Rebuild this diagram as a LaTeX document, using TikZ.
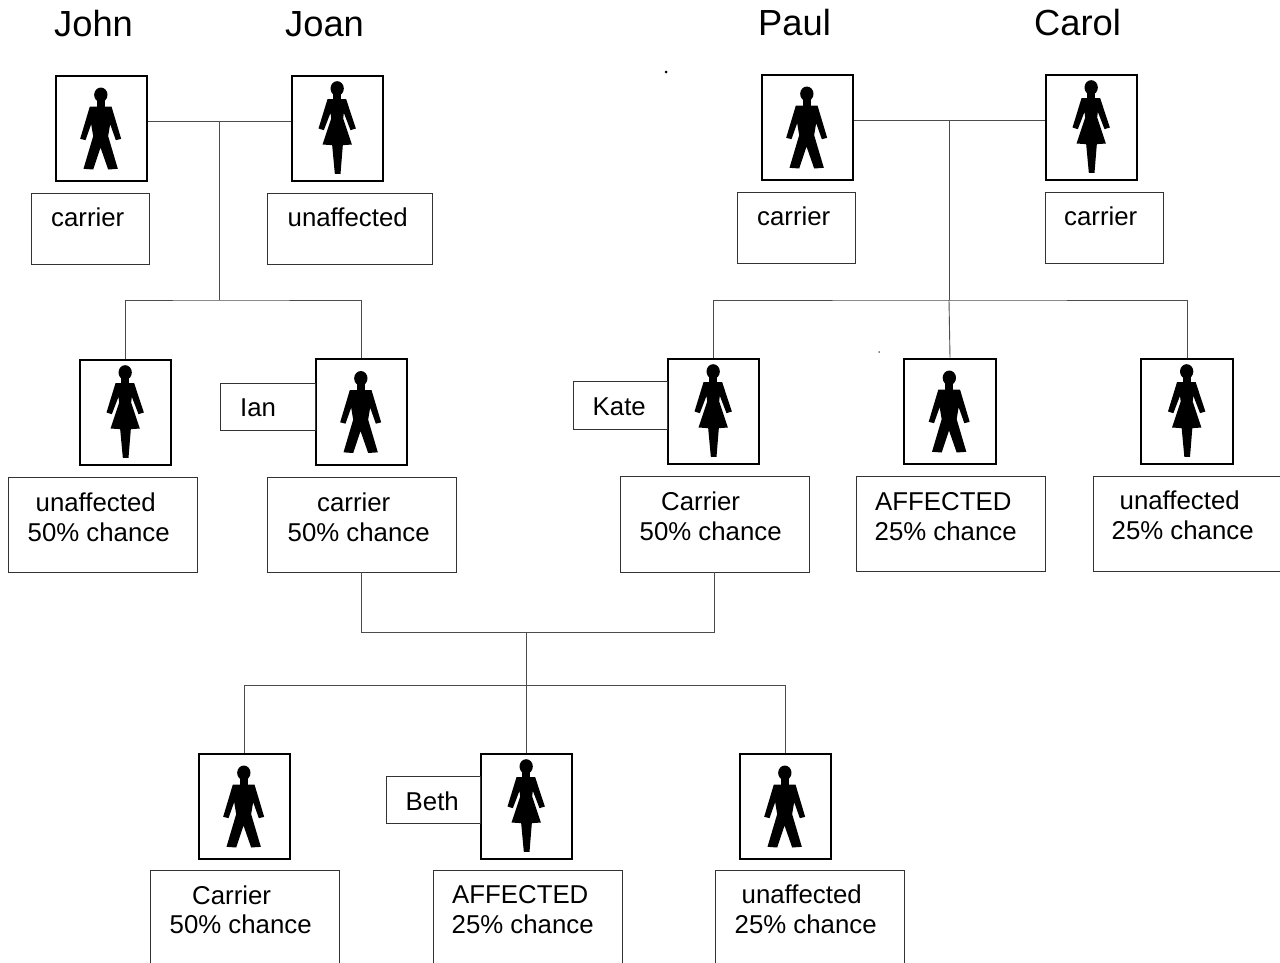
\documentclass[tikz,border=0pt]{standalone}
\usepackage{fontspec}
\setmainfont{Liberation Sans}
\begin{document}
\begin{tikzpicture}[x=1pt,y=-1pt,
  person/.style={draw=black,line width=2.3pt,fill=white,minimum width=91.5pt,minimum height=105.5pt,inner sep=0pt},
  labbox/.style={draw=black!80,line width=0.9pt,inner sep=0pt},
  link/.style={draw=black!70,line width=0.9pt},
  drop/.style={link,xshift=-0.8pt},
  speck/.style={fill=black,circle,inner sep=0pt},
  txt/.style={anchor=base west,inner sep=0pt,font=\fontsize{25.8}{30}\selectfont},
  namet/.style={anchor=base west,inner sep=0pt,font=\fontsize{36.3}{42}\selectfont},
  male/.pic={
    \begin{scope}[x=.3333pt,y=-.3333pt,shift={(-185,-205)}]
      \fill[black] (183,104) ellipse [x radius=20,y radius=22];
      \fill[black] (150,139)--(215,139)--(244,236)--(228,240)--(211,192)--(205,228)--(234,326)--(205,328)--(182,262)--(160,328)--(131,326)--(160,228)--(154,192)--(137,240)--(121,236)--cycle;
      \fill[black] (170,120) rectangle (195,145);
    \end{scope}},
  female/.pic={
    \begin{scope}[x=.3333pt,y=-.3333pt,shift={(-171,-205)}]
      \fill[black] (170,85) ellipse [x radius=20,y radius=22];
      \fill[black] (141,117)--(197,117)--(226,205)--(210,210)--(190,158)--(188,175)--(214,253)--(187,255)--(180,341)--(163,341)--(155,255)--(126,253)--(152,175)--(150,158)--(130,210)--(114,205)--cycle;
      \fill[black] (158,100) rectangle (182,122);
    \end{scope}}
]
\useasboundingbox (0,0) rectangle (1280,962);

% free-end junctions
\coordinate (jA) at (219,121);
\coordinate (jAb) at (219,300);
\coordinate (jB) at (949,120);
\coordinate (jBb) at (949,300);
\coordinate (jC) at (526,632);
\coordinate (jCb) at (526,685);

% person boxes
\node[person] (john) at (101.5,128.5) {};
\node[person] (joan) at (337.5,128.5) {};
\node[person] (paul) at (807.5,127.5) {};
\node[person] (carol) at (1091.5,127.5) {};
\node[person] (dau1) at (125.5,412.5) {};
\node[person] (ian) at (361.5,412) {};
\node[person] (kate) at (713.5,411.5) {};
\node[person] (son2) at (950,411.5) {};
\node[person] (dau3) at (1187,411.5) {};
\node[person] (son3) at (244.5,806.5) {};
\node[person] (beth) at (526.5,806.5) {};
\node[person] (son4) at (785.5,806.5) {};

% label boxes
\node[labbox,minimum width=118pt,minimum height=71pt] (lJohn) at (90,228.5) {};
\node[labbox,minimum width=165pt,minimum height=71pt] (lJoan) at (349.5,228.5) {};
\node[labbox,minimum width=118pt,minimum height=71pt] (lPaul) at (796,227.5) {};
\node[labbox,minimum width=118pt,minimum height=71pt] (lCarol) at (1104,227.5) {};
\node[labbox,minimum width=189pt,minimum height=95pt] (lDau1) at (102.5,524.5) {};
\node[labbox,minimum width=189pt,minimum height=95pt] (lIan) at (361.5,524.5) {};
\node[labbox,minimum width=189pt,minimum height=96pt] (lKate) at (714.5,524) {};
\node[labbox,minimum width=189pt,minimum height=95pt] (lSon2) at (950.5,523.5) {};
\node[labbox,minimum width=193pt,minimum height=95pt] (lDau3) at (1189.5,523.5) {};
\node[labbox,minimum width=189pt,minimum height=104pt] (lSon3) at (244.5,922) {};
\node[labbox,minimum width=189pt,minimum height=104pt] (lBeth) at (527.5,922) {};
\node[labbox,minimum width=189pt,minimum height=104pt] (lSon4) at (809.5,922) {};
\node[labbox,minimum width=95pt,minimum height=47pt] (nIan) at (267.5,406.5) {};
\node[labbox,minimum width=94pt,minimum height=48pt] (nKate) at (620,405) {};
\node[labbox,minimum width=94pt,minimum height=47pt] (nBeth) at (433,799.5) {};

% connectors
\draw[link] (john.east |- jA) -- (joan.west |- jA);
\draw[link] (jA) -- (jAb);
\draw[drop] (dau1.north) |- (jAb) -| (ian.north);
\draw[link] (paul.east |- jB) -- (carol.west |- jB);
\draw[link] (jB) -- (jBb);
\draw[drop] (kate.north) |- (jBb) -| (dau3.north);
\draw[link] (jBb) -- (son2.north);
\draw[drop] (lIan.south) |- (jC) -| (lKate.south);
\draw[link] (jC) -- (jC |- beth.north);
\draw[drop] (son3.north) |- (jCb) -| (son4.north);

% figures
\pic at (john) {male};
\pic at (joan) {female};
\pic at (paul) {male};
\pic at (carol) {female};
\pic at (dau1) {female};
\pic at (ian) {male};
\pic at (kate) {female};
\pic at (son2) {male};
\pic at (dau3) {female};
\pic at (son3) {male};
\pic at (beth) {female};
\pic at (son4) {male};

% specks of the scan
\node[speck,minimum size=3pt] (sp1) at (666,72) {};
\node[speck,minimum size=1.5pt] (sp2) at (879,352) {};

% names
\node[namet] (tJohn) at (54,36) {John};
\node[namet] (tJoan) at (285,36) {Joan};
\node[namet] (tPaul) at (758,35) {Paul};
\node[namet] (tCarol) at (1034,35) {Carol};

% texts
\node[txt] (t1) at (51,226) {carrier};
\node[txt] (t2) at (287.5,226) {unaffected};
\node[txt] (t3) at (757,225) {carrier};
\node[txt] (t4) at (1064,225) {carrier};
\node[txt] (t5a) at (35.5,511) {unaffected};
\node[txt] (t5b) at (27.5,541) {50\% chance};
\node[txt] (t6a) at (317,511) {carrier};
\node[txt] (t6b) at (287.5,541) {50\% chance};
\node[txt] (t7a) at (661,510) {Carrier};
\node[txt] (t7b) at (639.5,540) {50\% chance};
\node[txt] (t8a) at (875,510) {AFFECTED};
\node[txt] (t8b) at (874.5,540) {25\% chance};
\node[txt] (t9a) at (1119.5,509) {unaffected};
\node[txt] (t9b) at (1111.5,539) {25\% chance};
\node[txt] (t10a) at (192,904) {Carrier};
\node[txt] (t10b) at (169.5,933) {50\% chance};
\node[txt] (t11a) at (452,903) {AFFECTED};
\node[txt] (t11b) at (451.5,933) {25\% chance};
\node[txt] (t12a) at (741.5,903) {unaffected};
\node[txt] (t12b) at (734.5,933) {25\% chance};
\node[txt] (tIan) at (240,416) {Ian};
\node[txt] (tKate) at (592.5,415) {Kate};
\node[txt] (tBeth) at (405.5,810) {Beth};
\end{tikzpicture}
\end{document}
